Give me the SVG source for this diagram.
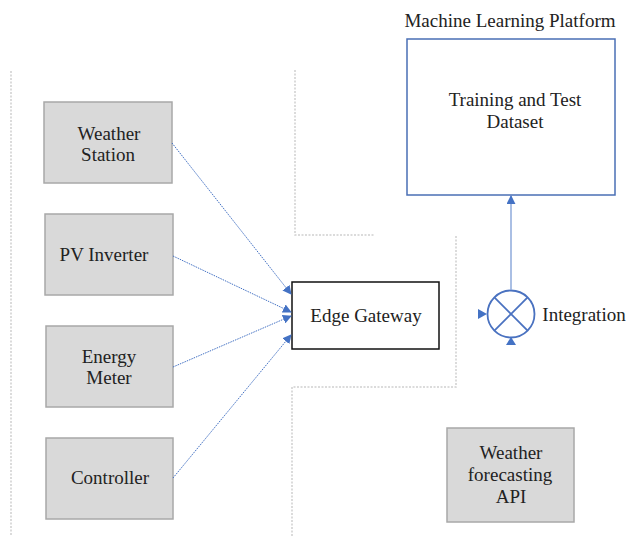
<svg xmlns="http://www.w3.org/2000/svg" width="628" height="536" viewBox="0 0 628 536" font-family="'Liberation Serif', 'Times New Roman', Times, 'DejaVu Serif', serif">
  <style>
    text { font-size: 19px; fill: #222; text-anchor: middle; }
    .src { fill: #d9d9d9; stroke: #a8a8a8; stroke-width: 1.5; }
    .zone { fill: none; stroke: #cfcfcf; stroke-width: 1.5; stroke-dasharray: 2 1.5; }
    .link { fill: none; stroke: #4472c4; stroke-width: 1; stroke-dasharray: 1.5 1; }
    .blue { fill: none; stroke: #4a72c0; stroke-width: 1.8; }
  </style>
  <defs>
    <marker id="arr" viewBox="0 0 10 10" refX="9" refY="5" markerWidth="9" markerHeight="9" markerUnits="userSpaceOnUse" orient="auto">
      <path d="M0,0 L10,5 L0,10 z" fill="#4472c4"/>
    </marker>
  </defs>

  <rect width="628" height="536" fill="#fff"/>

  <!-- zone boundaries -->
  <g id="zones">
    <line class="zone" x1="11" y1="71" x2="11" y2="536"/>
    <polyline class="zone" points="295,70 295,235 375,235"/>
    <polyline class="zone" points="456,236 456,387 292,387 292,536"/>
  </g>

  <!-- field devices -->
  <g id="weather-station">
    <rect class="src" x="44" y="102" width="128" height="81"/>
    <text x="109" y="140">Weather</text>
    <text x="108" y="161">Station</text>
  </g>
  <g id="pv-inverter">
    <rect class="src" x="45" y="214" width="128" height="81"/>
    <text x="104" y="261">PV Inverter</text>
  </g>
  <g id="energy-meter">
    <rect class="src" x="46" y="326" width="127" height="81"/>
    <text x="109" y="363">Energy</text>
    <text x="109" y="384">Meter</text>
  </g>
  <g id="controller">
    <rect class="src" x="46" y="438" width="127" height="81"/>
    <text x="110" y="484">Controller</text>
  </g>

  <g id="edge-gateway">
    <rect x="292" y="282" width="147" height="67" fill="#fff" stroke="#111" stroke-width="1.5"/>
    <text x="366" y="322">Edge Gateway</text>
  </g>

  <g id="ml-platform">
    <text x="510" y="27">Machine Learning Platform</text>
    <rect x="407" y="39" width="208" height="156" fill="#fff" stroke="#4a6fb5" stroke-width="1.5"/>
    <text x="515" y="106">Training and Test</text>
    <text x="515" y="128">Dataset</text>
  </g>

  <g id="integration">
    <circle cx="511" cy="314" r="23.5" fill="#fff" stroke="#4a72c0" stroke-width="1.8"/>
    <line class="blue" x1="494.4" y1="297.4" x2="527.6" y2="330.6"/>
    <line class="blue" x1="527.6" y1="297.4" x2="494.4" y2="330.6"/>
    <path d="M478,309 L487,314 L478,319 z" fill="#4472c4"/>
    <path d="M506,345 L511,337 L516,345 z" fill="#4472c4"/>
    <text x="584" y="321">Integration</text>
  </g>

  <g id="weather-api">
    <rect class="src" x="447" y="428" width="127" height="94"/>
    <text x="511" y="459">Weather</text>
    <text x="510" y="481">forecasting</text>
    <text x="511" y="503">API</text>
  </g>

  <!-- connectors -->
  <g id="connectors">
    <line class="link" x1="172" y1="143" x2="291" y2="294" marker-end="url(#arr)"/>
    <line class="link" x1="173" y1="256" x2="291" y2="312" marker-end="url(#arr)"/>
    <line class="link" x1="173" y1="367" x2="291" y2="316" marker-end="url(#arr)"/>
    <line class="link" x1="173" y1="478" x2="291" y2="335" marker-end="url(#arr)"/>
    <line x1="511" y1="290" x2="511" y2="196" stroke="#8eaadb" stroke-width="1.5" marker-end="url(#arr)"/>
  </g>
</svg>
